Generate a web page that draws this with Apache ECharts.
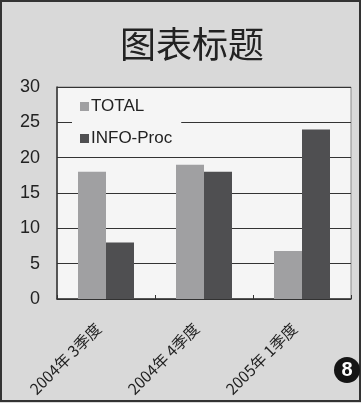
<!DOCTYPE html>
<html>
<head>
<meta charset="utf-8">
<script src="https://cdn.jsdelivr.net/npm/echarts@6/dist/echarts.min.js"></script>
<style>
  html, body { margin: 0; padding: 0; background: #d9d9d9; }
  #chart { width: 361px; height: 403px; }
</style>
</head>
<body>
<div id="chart"></div>
<script>
// Quarterly counts: total vs. INFO-Proc
const categories = ['2004年 3季度', '2004年 4季度', '2005年 1季度'];
const totalValues = [18, 19, 6.8];
const infoProcValues = [8, 18, 24];
const seriesNames = ['TOTAL', 'INFO-Proc'];
const titleText = '图表标题';
const badgeText = '8';

const chart = echarts.init(document.getElementById('chart'), null, { renderer: 'canvas' });

chart.setOption({
  backgroundColor: '#d9d9d9',
  animation: false,
  title: {
    text: titleText,
    left: 115,
    top: 21,
    textStyle: {
      fontFamily: '"Noto Sans CJK SC", sans-serif',
      fontSize: 36,
      fontWeight: 'normal',
      color: '#222'
    }
  },
  legend: {
    orient: 'vertical',
    left: 72,
    top: 93,
    itemWidth: 9,
    itemHeight: 9,
    itemGap: 15,
    padding: [5, 9, 5, 8],
    backgroundColor: '#f5f5f5',
    icon: 'rect',
    textStyle: {
      fontFamily: '"Liberation Sans", Arial, sans-serif',
      fontSize: 17,
      color: '#222',
      padding: [0, 0, 0, -3]
    },
    data: seriesNames
  },
  grid: {
    left: 57,
    right: 10,
    top: 87,
    bottom: 104,
    containLabel: false,
    outerBoundsMode: 'none',
    show: true,
    backgroundColor: '#f5f5f5',
    borderColor: '#8a8a8a',
    borderWidth: 1
  },
  xAxis: {
    type: 'category',
    data: categories,
    axisLine: { show: true, lineStyle: { color: '#333', width: 1.5 } },
    axisTick: { show: true, inside: true, length: 4, lineStyle: { color: '#333' } },
    axisLabel: {
      rotate: 45,
      margin: 19,
      padding: [0, 11, 0, 0],
      fontFamily: '"Noto Sans CJK SC", sans-serif',
      fontSize: 15.5,
      color: '#222'
    }
  },
  yAxis: {
    type: 'value',
    min: 0,
    max: 30,
    interval: 5,
    axisLine: { show: true, lineStyle: { color: '#333', width: 1.5 } },
    axisTick: { show: false },
    axisLabel: {
      margin: 17,
      fontFamily: '"Liberation Sans", Arial, sans-serif',
      fontSize: 18,
      color: '#222'
    },
    splitLine: { show: true, lineStyle: { color: '#333', width: 1 } }
  },
  series: [
    {
      name: seriesNames[0],
      type: 'bar',
      data: totalValues,
      barWidth: 28,
      barGap: '0%',
      itemStyle: { color: '#a0a0a2' }
    },
    {
      name: seriesNames[1],
      type: 'bar',
      data: infoProcValues,
      barWidth: 28,
      barGap: '0%',
      itemStyle: { color: '#4f4f51' }
    }
  ],
  graphic: [
    {
      type: 'rect',
      shape: { x: 1, y: 1, width: 359, height: 400 },
      style: { fill: 'none', stroke: '#333', lineWidth: 2 },
      silent: true
    },
    {
      type: 'circle',
      shape: { cx: 347, cy: 370, r: 13 },
      style: { fill: '#151515' },
      silent: true
    },
    {
      type: 'text',
      x: 347,
      y: 370,
      style: {
        text: badgeText,
        fill: '#fff',
        font: 'bold 20px "Liberation Sans", Arial, sans-serif',
        align: 'center',
        verticalAlign: 'middle'
      },
      silent: true
    }
  ]
});
</script>
</body>
</html>
